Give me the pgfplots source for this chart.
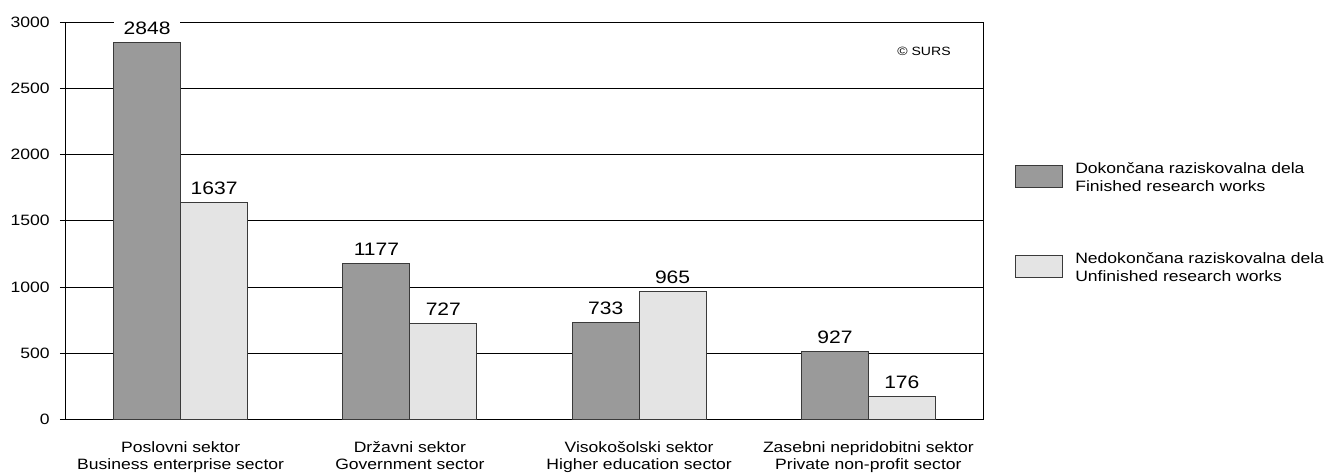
\documentclass[border=0pt]{standalone}
\usepackage{pgfplots}
\pgfplotsset{compat=1.18}
\usepackage{fontspec}
\setmainfont{Liberation Sans}[FakeStretch=1.17]
\definecolor{darkbar}{HTML}{9A9A9A}
\definecolor{lightbar}{HTML}{E4E4E4}
\definecolor{edge}{HTML}{3A3A3A}
\begin{document}
\begin{tikzpicture}
\begin{axis}[
  at={(0,0)}, anchor=south west,
  scale only axis, width=687.75pt, height=297.9pt,
  xmin=-0.5, xmax=3.5, ymin=0, ymax=3000,
  ybar=0pt, bar width=0.292,
  ytick={0,500,1000,1500,2000,2500,3000},
  xtick={0,1,2,3},
  xticklabels={{Poslovni sektor\\Business enterprise sector},
               {Državni sektor\\Government sector},
               {Visokošolski sektor\\Higher education sector},
               {Zasebni nepridobitni sektor\\Private non-profit sector}},
  xtick style={draw=none},
  ytick pos=left, tick align=outside, major tick length=4.5pt,
  ytick style={black, line width=0.6pt},
  ymajorgrids, grid style={black, line width=0.6pt},
  axis line style={black, line width=0.75pt},
  /pgf/number format/assume math mode=true,
  /pgf/number format/1000 sep={},
  yticklabel style={font=\fontsize{11.25}{13}\selectfont, inner sep=0pt, xshift=-7.5pt},
  xticklabel style={font=\fontsize{11.25}{13.2}\selectfont, align=center, inner sep=0pt, anchor=north, yshift=-11.8pt},
  nodes near coords, point meta=explicit symbolic,
  every node near coord/.append style={font=\fontsize{13.5}{14}\selectfont, fill=white, inner xsep=0pt, inner ysep=1pt, minimum width=50pt, anchor=south, yshift=4.25pt},
  clip=false,
]
\addplot[fill=darkbar, draw=edge, line width=0.75pt] coordinates {(0,2848)[2848] (1,1177)[1177] (2,733)[733] (3,516)[927]};
\addplot[fill=lightbar, draw=edge, line width=0.75pt] coordinates {(0,1637)[1637] (1,727)[727] (2,965)[965] (3,176)[176]};
\node[anchor=east, inner sep=0pt, font=\fontsize{9}{10}\selectfont] at (rel axis cs:0.965,0.927) {© SURS};
\end{axis}
% legend
\draw[fill=darkbar, draw=edge, line width=0.75pt] (711.75pt,173.5pt) rectangle (747pt,190.5pt);
\node[anchor=west, align=left, inner sep=0pt, font=\fontsize{11.25}{13.5}\selectfont] at (756.75pt,182pt) {Dokončana raziskovalna dela\\Finished research works};
\draw[fill=lightbar, draw=edge, line width=0.75pt] (711.75pt,106pt) rectangle (747pt,122.5pt);
\node[anchor=west, align=left, inner sep=0pt, font=\fontsize{11.25}{13.5}\selectfont] at (756.75pt,114.3pt) {Nedokončana raziskovalna dela\\Unfinished research works};
\pgfresetboundingbox
\path (-49.5pt,-41pt) rectangle (948pt,314.5pt);
\end{tikzpicture}
\end{document}
